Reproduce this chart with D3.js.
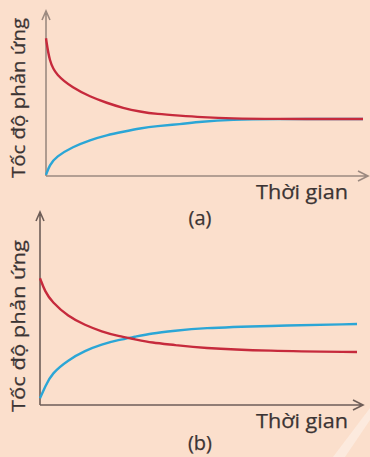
<!DOCTYPE html>
<html>
<head>
<meta charset="utf-8">
<script src="https://cdn.jsdelivr.net/npm/d3@7"></script>
<style>
  html, body { margin: 0; padding: 0; background: #fbdfcc; }
  svg { display: block; }
  text { font-family: "Open Sans", "Noto Sans", sans-serif; fill: #3b3434; stroke: #3b3434; stroke-width: 0.25; }
</style>
</head>
<body>
<div id="chart"></div>
<script>
// readings (arbitrary units, time 0..10)
var times_a = [0, 0.11, 0.32, 0.85, 1.39, 1.92, 2.43, 2.97, 3.49, 4.23, 4.86, 5.9, 7, 10];
var forward_a = [9.18, 7.62, 6.73, 5.87, 5.29, 4.87, 4.53, 4.29, 4.13, 4.02, 3.93, 3.83, 3.8, 3.8];
var reverse_a = [0.07, 0.73, 1.29, 1.95, 2.4, 2.73, 2.95, 3.18, 3.33, 3.45, 3.62, 3.76, 3.8, 3.8];

var times_b = [0, 0.16, 0.37, 0.89, 1.42, 1.95, 2.47, 3.0, 3.52, 4.26, 5.05, 7.16, 10];
var forward_b = [8.45, 7.55, 6.89, 5.89, 5.33, 4.89, 4.6, 4.38, 4.15, 4.0, 3.8, 3.6, 3.53];
var reverse_b = [0.45, 1.22, 2.11, 3.0, 3.62, 4.05, 4.33, 4.55, 4.78, 4.95, 5.13, 5.27, 5.4];

var panel_labels = ["(a)", "(b)"];
var y_title = "Tốc độ phản ứng";
var x_title = "Thời gian";

var width = 370, height = 457;
var red = "#c62a3c", blue = "#2ba6d6";

var svg = d3.select("#chart").append("svg")
    .attr("width", width)
    .attr("height", height);

var draw_panel = function(opts) {
  var x = d3.scaleLinear().domain([0, 10]).range([opts.left, opts.right]);
  var y = d3.scaleLinear().domain([0, 10]).range([opts.bottom, opts.bottom - 150]);
  var g = svg.append("g");

  // axes with open arrow heads
  g.append("path")
      .attr("d", "M" + opts.left + "," + opts.bottom + "V" + opts.top +
                 "M" + (opts.left - 4) + "," + (opts.top + 9) + "L" + opts.left + "," + opts.top +
                 "L" + (opts.left + 4) + "," + (opts.top + 9))
      .attr("fill", "none")
      .attr("stroke", opts.axis_color)
      .attr("stroke-width", 1.6);
  g.append("path")
      .attr("d", "M" + opts.left + "," + opts.bottom + "H" + opts.arrow_x +
                 "M" + (opts.arrow_x - 10) + "," + (opts.bottom - 5) + "L" + opts.arrow_x + "," + opts.bottom +
                 "L" + (opts.arrow_x - 10) + "," + (opts.bottom + 5))
      .attr("fill", "none")
      .attr("stroke", opts.axis_color)
      .attr("stroke-width", 1.6);

  // basis curve smooths out the reading noise
  var line = d3.line()
      .x(function(d) { return x(d[0]); })
      .y(function(d) { return y(d[1]); })
      .curve(d3.curveBasis);

  g.append("path")
      .attr("d", line(d3.zip(opts.times, opts.reverse)))
      .attr("fill", "none")
      .attr("stroke", blue)
      .attr("stroke-width", 2.4);
  g.append("path")
      .attr("d", line(d3.zip(opts.times, opts.forward)))
      .attr("fill", "none")
      .attr("stroke", red)
      .attr("stroke-width", 2.4);

  g.append("text")
      .attr("transform", "translate(25," + opts.ytitle_start + ") rotate(-90)")
      .attr("font-size", 19)
      .attr("textLength", opts.ytitle_len)
      .attr("lengthAdjust", "spacingAndGlyphs")
      .text(y_title);

  g.append("text")
      .attr("x", 256)
      .attr("y", opts.title_y)
      .attr("font-size", 20)
      .attr("textLength", 92)
      .attr("lengthAdjust", "spacingAndGlyphs")
      .text(x_title);

  g.append("text")
      .attr("x", 200)
      .attr("y", opts.label_y)
      .attr("text-anchor", "middle")
      .attr("font-size", 20)
      .text(opts.label);
};

draw_panel({ left: 46, right: 363, top: 11, bottom: 176, arrow_x: 368,
             times: times_a, forward: forward_a, reverse: reverse_a,
             title_y: 199, label_y: 225, ytitle_start: 178, ytitle_len: 160,
             label: panel_labels[0], axis_color: "#9c8a80" });
draw_panel({ left: 40, right: 357, top: 212, bottom: 405, arrow_x: 363,
             times: times_b, forward: forward_b, reverse: reverse_b,
             title_y: 428, label_y: 450, ytitle_start: 412, ytitle_len: 172,
             label: panel_labels[1], axis_color: "#6e5e58" });

// faint watermark stripe
svg.append("path")
    .attr("d", "M370,408L370,420L345,457L333,457Z")
    .attr("fill", "#ffffff")
    .attr("opacity", 0.35);
</script>
</body>
</html>
